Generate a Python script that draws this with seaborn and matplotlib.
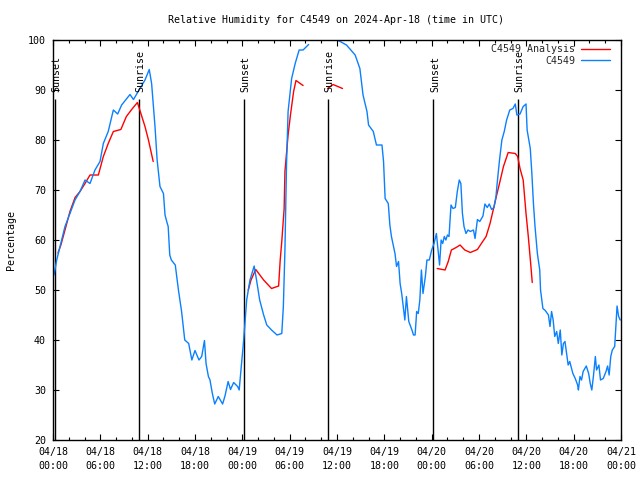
import numpy as np
import pandas as pd
import matplotlib
matplotlib.use("Agg")
import matplotlib.pyplot as plt
import matplotlib.transforms as mtransforms
import seaborn as sns

TITLE = "Relative Humidity for C4549 on 2024-Apr-18 (time in UTC)"
Y_LABEL = "Percentage"
SERIES_NAMES = ["C4549 Analysis", "C4549"]
SERIES_COLORS = ["#ff0000", "#0a80ff"]

# observed relative humidity (hours since 04/18 00:00 UTC)
obs_hours = [0.13, 0.47, 0.89, 1.52, 2.15, 2.79, 3.42, 4.06, 4.69, 5.32, 5.96, 6.38, 7.0, 7.65,
             8.2, 8.7, 9.76, 10.2, 10.8, 11.66, 12.2, 12.5, 12.93, 13.2, 13.56, 14.0, 14.2, 14.45,
             14.6, 14.8, 15.0, 15.5, 15.9, 16.3, 16.7, 17.2, 17.6, 18.0, 18.5, 18.85, 19.2, 19.4,
             19.7, 19.9, 20.2, 20.5, 20.95, 21.5, 21.8, 22.2, 22.5, 22.9, 23.4, 23.6, 23.9, 24.1,
             24.3, 24.55, 24.97, 25.5, 25.8, 26.2, 26.7, 27.1, 27.7, 28.4, 29.0, 29.2, 29.4, 29.6,
             29.8, 30.25, 30.7, 31.2, 31.7, 32.4, 34.0, 36.0, 36.4, 37.2, 38.3, 38.9, 39.3, 39.8,
             40.0, 40.6, 41.0, 41.7, 41.9, 42.1, 42.5, 42.7, 42.9, 43.35, 43.55, 43.8, 44.0, 44.2,
             44.5, 44.6, 44.8, 45.1, 45.5, 45.7, 45.9, 46.1, 46.3, 46.5, 46.7, 46.9, 47.2, 47.4,
             47.7, 48.0, 48.3, 48.6, 48.85, 49.0, 49.2, 49.4, 49.6, 49.8, 50.0, 50.2, 50.45, 50.7,
             51.0, 51.25, 51.5, 51.7, 51.9, 52.1, 52.35, 52.6, 52.9, 53.3, 53.5, 53.8, 54.1, 54.5,
             54.75, 55.05, 55.3, 55.6, 55.9, 56.15, 56.3, 56.6, 56.9, 57.2, 57.5, 57.9, 58.3, 58.6,
             58.8, 59.2, 59.6, 59.96, 60.1, 60.5, 60.7, 60.9, 61.1, 61.4, 61.7, 61.8, 62.1, 62.4,
             62.8, 63.0, 63.2, 63.4, 63.6, 63.85, 64.05, 64.3, 64.5, 64.7, 64.9, 65.1, 65.3, 65.5,
             65.9, 66.2, 66.5, 66.6, 66.8, 67.0, 67.2, 67.6, 67.9, 68.1, 68.3, 68.5, 68.75, 68.9,
             69.2, 69.4, 69.75, 70.1, 70.3, 70.5, 70.7, 70.9, 71.2, 71.4, 71.5, 71.7, 71.9]
obs_values = [53.0, 56.0, 58.7, 62.7, 65.3, 68.0, 69.7, 72.0, 71.3, 74.0, 75.7, 79.3, 81.7, 86.0,
              85.2, 87.0, 89.1, 88.1, 89.7, 92.0, 94.1, 91.3, 82.7, 76.0, 70.7, 69.3, 65.0, 63.5,
              62.7, 57.0, 56.0, 55.0, 50.0, 45.7, 40.0, 39.3, 36.0, 37.9, 36.0, 36.7, 39.9, 35.3,
              32.7, 32.0, 29.3, 27.2, 28.7, 27.2, 28.8, 31.7, 30.1, 31.5, 30.7, 30.0, 35.3, 38.7,
              42.7, 48.0, 52.0, 54.8, 52.0, 48.0, 45.0, 43.0, 42.0, 41.0, 41.3, 46.7, 58.0, 75.0,
              85.7, 92.3, 95.3, 98.0, 98.0, 99.1, np.nan, 100.0, 99.7, 99.0, 97.0, 94.3, 89.0, 85.7,
              83.0, 81.7, 79.0, 79.0, 75.7, 68.3, 67.3, 63.0, 60.7, 57.3, 54.7, 55.7, 51.3, 49.3,
              45.3, 44.0, 48.7, 43.7, 42.0, 41.0, 41.0, 45.7, 45.3, 48.0, 54.0, 49.3, 52.7, 56.0,
              56.0, 58.0, 59.3, 61.3, 57.3, 55.0, 60.0, 59.3, 60.7, 60.0, 61.0, 60.7, 67.0, 66.3,
              66.5, 69.7, 72.0, 71.3, 65.3, 62.7, 61.3, 62.0, 61.7, 62.0, 60.3, 64.1, 63.7, 64.8,
              67.2, 66.5, 67.2, 66.1, 66.5, 68.7, 71.3, 76.0, 80.0, 81.7, 84.0, 86.0, 86.3, 87.2,
              85.0, 85.2, 86.7, 87.2, 82.0, 78.3, 73.3, 67.3, 62.7, 57.3, 54.0, 50.0, 46.3, 45.9,
              45.0, 42.7, 45.7, 44.0, 40.7, 41.7, 39.3, 42.0, 37.0, 39.3, 39.7, 37.3, 35.0, 35.7,
              33.3, 32.3, 31.0, 30.0, 32.7, 32.0, 33.7, 34.8, 33.3, 31.3, 30.0, 32.7, 36.7, 34.0,
              35.0, 32.0, 32.3, 33.7, 34.8, 33.0, 36.7, 38.0, 38.7, 44.0, 46.8, 44.7, 44.0]

# analysis relative humidity
ana_hours = [0.63, 1.0, 1.52, 2.15, 2.8, 3.42, 4.06, 4.69, 5.75, 6.38, 7.0, 7.65, 8.6, 9.3, 9.97,
             10.7, 11.0, 11.66, 12.1, 12.7, 18.0,
             24.75, 25.1, 25.7, 26.7, 27.7, 28.6, 28.8, 29.0, 29.3, 29.4, 29.8, 30.1, 30.5, 30.8,
             31.7, 33.0,
             34.8, 35.5, 36.7, 42.0,
             48.7, 49.7, 50.1, 50.5, 51.1, 51.6, 52.2, 52.9, 53.8, 54.3, 54.9, 55.4, 55.8, 56.2,
             56.7, 57.1, 57.7, 58.6, 58.9, 59.2, 59.6, 59.96, 60.25, 60.55, 60.75]
ana_values = [57.4, 59.0, 62.0, 65.7, 68.5, 69.7, 71.3, 73.0, 73.0, 76.7, 79.3, 81.7, 82.1, 84.7,
              86.1, 87.5, 86.0, 82.7, 80.0, 75.7, np.nan,
              50.0, 52.0, 54.1, 52.0, 50.3, 50.8, 56.0, 59.7, 66.3, 73.7, 81.0, 85.0, 89.7, 91.9,
              90.9, np.nan,
              90.3, 91.1, 90.3, np.nan,
              54.3, 54.0, 55.7, 58.0, 58.5, 59.0, 58.0, 57.5, 58.1, 59.3, 60.7, 63.3, 66.0, 68.7,
              72.0, 74.7, 77.5, 77.3, 76.7, 74.3, 72.0, 65.3, 60.7, 55.3, 51.5]

sun_hours = [0.2, 10.92, 24.22, 34.9, 48.22, 58.95]
sun_labels = ["Sunset", "Sunrise", "Sunset", "Sunrise", "Sunset", "Sunrise"]
sun_line_top = 88.1
sun_label_base = 89.6

xtick_hours = [0, 6, 12, 18, 24, 30, 36, 42, 48, 54, 60, 66, 72]
xtick_labels = ["04/18\n00:00", "04/18\n06:00", "04/18\n12:00", "04/18\n18:00",
                "04/19\n00:00", "04/19\n06:00", "04/19\n12:00", "04/19\n18:00",
                "04/20\n00:00", "04/20\n06:00", "04/20\n12:00", "04/20\n18:00",
                "04/21\n00:00"]
ytick_values = [20, 30, 40, 50, 60, 70, 80, 90, 100]


def to_frame(hours, values, name):
    df = pd.DataFrame({"hour": hours, "value": values})
    df["series"] = name
    df["seg"] = name + "_" + df["value"].isna().cumsum().astype(str)
    return df.dropna()


data = pd.concat([to_frame(ana_hours, ana_values, SERIES_NAMES[0]),
                  to_frame(obs_hours, obs_values, SERIES_NAMES[1])], ignore_index=True)

sns.set_theme(style="white")
plt.rcParams['font.family'] = ['DejaVu Sans Mono', 'DejaVu Sans']
FS = 7.2

fig = plt.figure(figsize=(6.4, 4.8), dpi=100)
ax = fig.add_axes([53 / 640, 40 / 480, 568 / 640, 400 / 480])

sns.lineplot(data=data, x="hour", y="value", hue="series", hue_order=SERIES_NAMES,
             palette=dict(zip(SERIES_NAMES, SERIES_COLORS)), units="seg", estimator=None,
             lw=1.0, ax=ax)

ax.vlines(sun_hours, 20, sun_line_top, colors="black", lw=1.0, zorder=1)
off = mtransforms.offset_copy(ax.transData, fig=fig, x=1.5, y=0, units="dots")
for h, lab in zip(sun_hours, sun_labels):
    ax.text(h, sun_label_base, lab, rotation=90, ha="center", va="bottom",
            fontsize=FS, color="black", transform=off)

ax.set_xlim(0, 72)
ax.set_ylim(20, 100)
ax.set_xticks(xtick_hours)
ax.set_xticklabels(xtick_labels, linespacing=1.5)
ax.set_xticks(np.arange(0, 73, 2), minor=True)
ax.set_yticks(ytick_values)
ax.set_yticklabels([str(v) for v in ytick_values])
ax.tick_params(which="both", direction="in", top=True, right=True, bottom=True, left=True,
               color="black", width=0.8, labelsize=FS, labelcolor="black")
ax.tick_params(which="major", length=4.5, pad=5)
ax.tick_params(which="minor", length=2.5)
ax.tick_params(axis="y", which="minor", left=False, right=False)
for sp in ax.spines.values():
    sp.set_color("black")
    sp.set_linewidth(1.0)

ax.set_xlabel("")
ax.set_ylabel(Y_LABEL, fontsize=FS, color="black")
ax.yaxis.set_label_coords(-0.065, 0.5)

old = ax.get_legend()
handles = list(old.legend_handles)
labels = [t.get_text() for t in old.texts]
old.remove()
leg = ax.legend(handles, labels, loc="upper right", bbox_to_anchor=(0.9806, 0.989),
                frameon=False, markerfirst=False, borderpad=0, borderaxespad=0,
                handlelength=2.9, handletextpad=0.6, labelspacing=0.15,
                prop={"family": "DejaVu Sans Mono", "size": FS})
for h in leg.legend_handles:
    h.set_linewidth(1.0)

fig.text(336 / 640, 1 - 20 / 480, TITLE, ha="center", va="center", fontsize=FS, color="black")

fig.savefig("out.png", dpi=100)
